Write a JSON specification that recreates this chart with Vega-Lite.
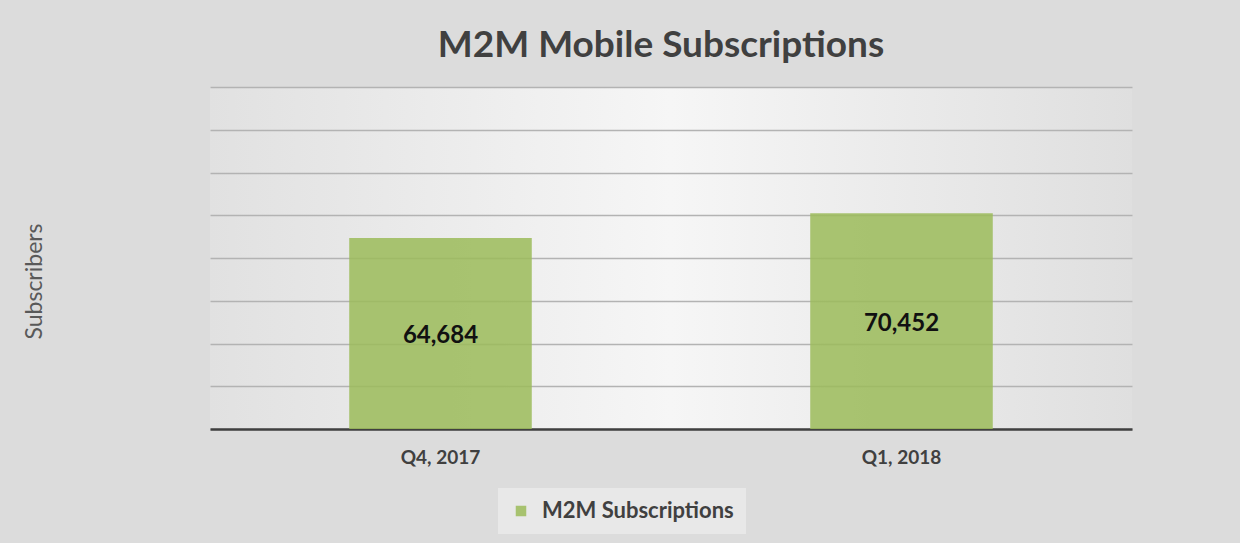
{
  "$schema": "https://vega.github.io/schema/vega-lite/v6.json",
  "autosize": "none",
  "width": 922,
  "height": 342,
  "padding": {"left": 210, "top": 87, "right": 108, "bottom": 114},
  "background": "#dcdcdc",
  "config": {
    "font": "Lato",
    "view": {
      "stroke": null,
      "fill": {
        "gradient": "linear",
        "x1": 0, "y1": 0, "x2": 1, "y2": 0,
        "stops": [
          {"offset": 0, "color": "#e1e1e1"},
          {"offset": 0.5, "color": "#f6f6f6"},
          {"offset": 1, "color": "#dfdfdf"}
        ]
      }
    }
  },
  "title": {
    "text": "M2M Mobile Subscriptions",
    "font": "Lato",
    "fontSize": 37,
    "fontWeight": "bold",
    "color": "#404040",
    "anchor": "middle",
    "dx": -10,
    "offset": 22
  },
  "data": {
    "values": [
      {"quarter": "Q4, 2017", "value": 64684, "series": "M2M Subscriptions"},
      {"quarter": "Q1, 2018", "value": 70452, "series": "M2M Subscriptions"}
    ]
  },
  "transform": [{"calculate": "(datum.value + 20000) / 2", "as": "mid"}],
  "encoding": {
    "x": {
      "field": "quarter",
      "type": "nominal",
      "sort": null,
      "scale": {"paddingInner": 0.604, "paddingOuter": 0.302},
      "axis": {
        "title": null,
        "labelAngle": 0,
        "labelFont": "Lato",
        "labelFontSize": 19,
        "labelFontWeight": "bold",
        "labelColor": "#404040",
        "labelPadding": 19,
        "ticks": false,
        "domainColor": "#404040",
        "domainWidth": 2.5
      }
    }
  },
  "layer": [
    {
      "mark": {"type": "bar", "opacity": 0.85},
      "encoding": {
        "y": {
          "field": "value",
          "type": "quantitative",
          "scale": {"domain": [20000, 100000], "zero": false, "nice": false},
          "axis": {
            "values": [20000, 30000, 40000, 50000, 60000, 70000, 80000, 90000, 100000],
            "labels": false,
            "ticks": false,
            "domain": false,
            "grid": true,
            "gridColor": "#b3b3b3",
            "gridWidth": 1.5,
            "title": "Subscribers",
            "titleFont": "Lato",
            "titleFontSize": 23,
            "titleFontWeight": "normal",
            "titleColor": "#595959",
            "titleAngle": -90,
            "titleAlign": "center",
            "titleBaseline": "middle",
            "titleX": -176,
            "titleY": 194
          }
        },
        "y2": {"datum": 20000},
        "color": {
          "field": "series",
          "type": "nominal",
          "scale": {"range": ["#9bbb59"]},
          "legend": {
            "title": null,
            "orient": "none",
            "legendX": 288,
            "legendY": 401,
            "fillColor": "#e8e8e8",
            "padding": 12,
            "symbolType": "square",
            "symbolSize": 110,
            "symbolOpacity": 0.85,
            "labelFont": "Lato",
            "labelFontSize": 22,
            "labelFontWeight": "bold",
            "labelColor": "#404040",
            "labelOffset": 10,
            "labelLimit": 400
          }
        }
      }
    },
    {
      "mark": {"type": "text", "font": "Lato", "fontSize": 24, "fontWeight": "bold", "color": "#111111", "baseline": "middle", "dy": 3},
      "encoding": {
        "y": {"field": "mid", "type": "quantitative"},
        "text": {"field": "value", "type": "quantitative", "format": ","}
      }
    }
  ]
}
